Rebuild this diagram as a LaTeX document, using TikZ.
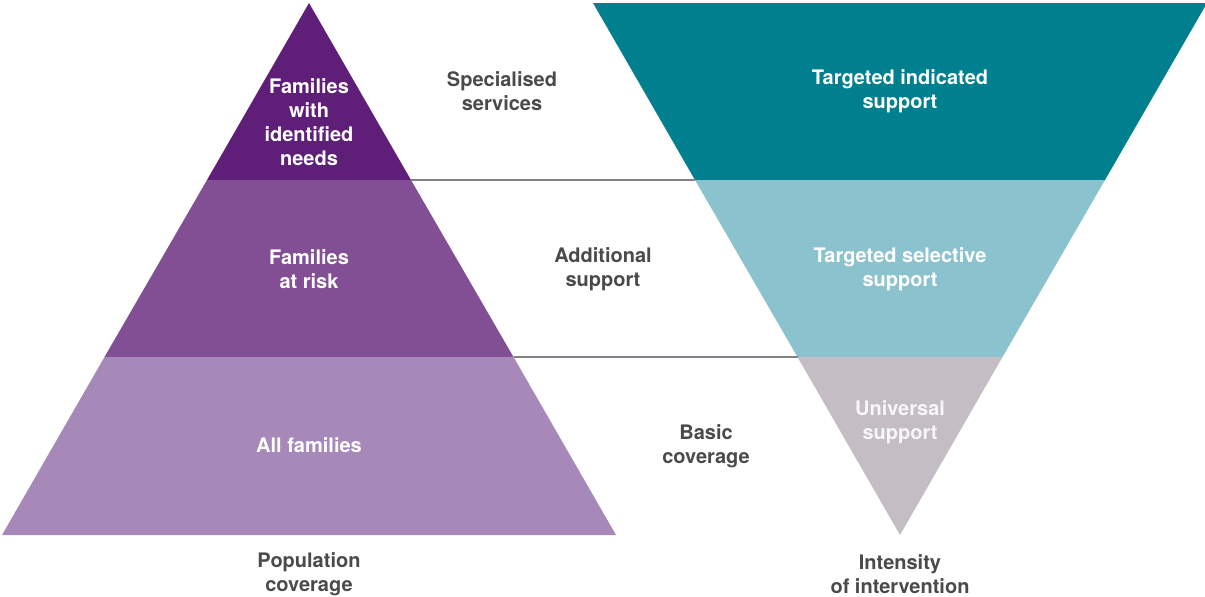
\documentclass[tikz,border=0pt]{standalone}
\usepackage{fontspec}
\setmainfont{TeX Gyre Heros}
\begin{document}
\begin{tikzpicture}[x=1pt,y=-1pt,
  lbl/.style={align=center,font=\fontsize{20}{24}\selectfont\bfseries,inner sep=0pt},
  wlbl/.style={lbl,text=white},
  glbl/.style={lbl,text=txtgray},
  sep/.style={draw=linegray,line width=2pt}]
\definecolor{pdark}{HTML}{5F1F78}
\definecolor{pmid}{HTML}{834F94}
\definecolor{plight}{HTML}{A688B9}
\definecolor{tdark}{HTML}{007F8F}
\definecolor{tlight}{HTML}{8AC3CE}
\definecolor{ugray}{HTML}{C4BDC4}
\definecolor{txtgray}{HTML}{4A4A4A}
\definecolor{linegray}{HTML}{858088}
\useasboundingbox (0,0) rectangle (1205,597);
% left pyramid
\fill[pdark] (309,3) -- (411,180) -- (207,180) -- cycle;
\fill[pmid] (207,180) -- (411,180) -- (513.5,357) -- (104.5,357) -- cycle;
\fill[plight] (104.5,357) -- (513.5,357) -- (616,535) -- (2,535) -- cycle;
% right inverted triangle
\fill[tdark] (593,3) -- (1207,3) -- (1105,180) -- (695,180) -- cycle;
\fill[tlight] (695,180) -- (1105,180) -- (1002.5,357) -- (797.5,357) -- cycle;
\fill[ugray] (797.5,357) -- (1002.5,357) -- (900,535) -- cycle;
% connectors
\coordinate (l1) at (411,180); \coordinate (r1) at (695,180);
\coordinate (l2) at (513.5,357); \coordinate (r2) at (797.5,357);
\draw[sep] (l1) -- (r1);
\draw[sep] (l2) -- (r2);
% labels
\node[wlbl] (a) at (309,122) {Families\\with\\identified\\needs};
\node[wlbl] (b) at (309,269) {Families\\at risk};
\node[wlbl] (c) at (309,445) {All families};
\node[glbl] (d) at (502,91) {Specialised\\services};
\node[glbl] (e) at (603,269) {Additional\\support};
\node[glbl] (f) at (706,446) {Basic\\coverage};
\node[wlbl] (g) at (900,91) {Targeted indicated\\support};
\node[wlbl] (h) at (900,269) {Targeted selective\\support};
\node[lbl,text=white!94!gray] (i) at (900,422) {Universal\\support};
\node[glbl] (j) at (309,574) {Population\\coverage};
\node[glbl] (k) at (900,574) {Intensity\\of intervention};
\end{tikzpicture}
\end{document}
